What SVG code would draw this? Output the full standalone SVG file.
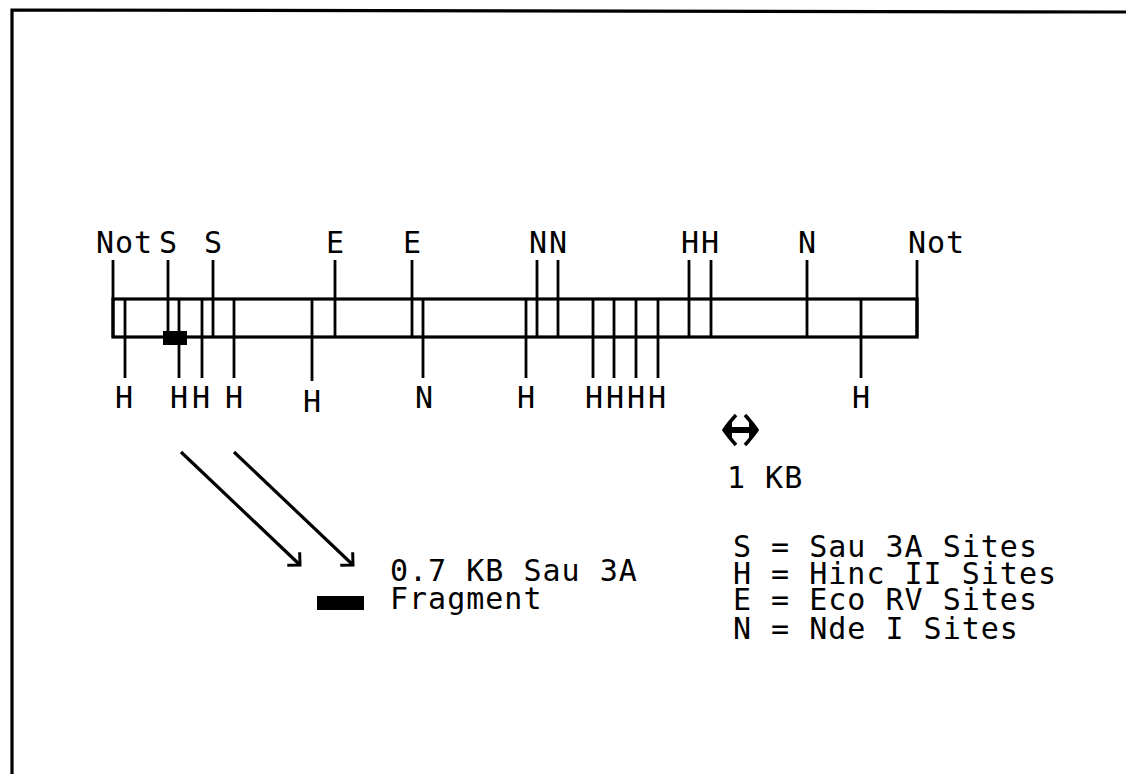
<svg xmlns="http://www.w3.org/2000/svg" width="1126" height="774" viewBox="0 0 1126 774">
<style>
text{font-family:"DejaVu Sans Mono","Liberation Mono",monospace;font-size:30px;fill:#000;letter-spacing:1px}
.lbl{text-anchor:middle;letter-spacing:0}
.ln{stroke:#000;fill:none;stroke-width:3.2}
.tk{stroke:#000;fill:none;stroke-width:2.8}
</style>
<defs>
<marker id="open" markerUnits="userSpaceOnUse" markerWidth="24" markerHeight="24" viewBox="-12 -12 24 24" refX="0" refY="0" orient="auto">
<path d="M-9,-9 L0,0 L-9,9" fill="none" stroke="#000" stroke-width="3"/>
</marker>
</defs>
<path class="ln" d="M12,774 L12,10 L1126,12"/>
<g id="map">
<rect class="ln" x="113" y="299" width="804" height="38"/>
<rect x="163" y="331" width="24" height="14" fill="#000"/>
</g>
<g id="top-sites">
<path class="tk" d="M113,260V337 M168,260V337 M213,260V337 M335,260V337 M412,260V337 M537,260V337 M558,260V337 M689,260V337 M711,260V337 M807,260V337 M917,260V338"/>
<text x="96" y="253">Not</text>
<text class="lbl" x="168" y="253">S</text>
<text class="lbl" x="213" y="253">S</text>
<text class="lbl" x="335" y="253">E</text>
<text class="lbl" x="412" y="253">E</text>
<text class="lbl" x="538 558" y="253">NN</text>
<text class="lbl" x="690 710" y="253">HH</text>
<text class="lbl" x="807" y="253">N</text>
<text x="908" y="253">Not</text>
</g>
<g id="bottom-sites">
<path class="tk" d="M125,299V378 M179,299V378 M202,299V378 M234,299V378 M312,299V381 M423,299V378 M526,299V378 M593,299V378 M614,299V378 M636,299V378 M658,299V378 M861,299V378"/>
<text class="lbl" x="124" y="408">H</text>
<text class="lbl" x="179 201" y="408">HH</text>
<text class="lbl" x="234" y="408">H</text>
<text class="lbl" x="312" y="412">H</text>
<text class="lbl" x="424" y="408">N</text>
<text class="lbl" x="526" y="408">H</text>
<text class="lbl" x="594 615 636 657" y="408">HHHH</text>
<text class="lbl" x="861" y="408">H</text>
</g>
<g id="connectors">
<line class="ln" x1="181" y1="452" x2="300" y2="565" marker-end="url(#open)"/>
<line class="ln" x1="234" y1="452" x2="353" y2="565" marker-end="url(#open)"/>
</g>
<g id="fragment-legend">
<rect x="317" y="596" width="47" height="14" fill="#000"/>
<text x="390" y="581">0.7 KB Sau 3A</text>
<text x="390" y="609">Fragment</text>
</g>
<g id="scale">
<path d="M726,430 H755" stroke="#000" stroke-width="6" fill="none"/>
<path d="M736,415 Q728,424 724,430 Q728,436 736,445 M745,415 Q753,424 757,430 Q753,436 745,445" stroke="#000" stroke-width="3.5" fill="none"/>
<path d="M723,430 L732,421 L732,439 Z M758,430 L749,421 L749,439 Z" fill="#000"/>
<text x="727" y="488">1 KB</text>
</g>
<g id="legend">
<text x="733" y="557">S = Sau 3A Sites</text>
<text x="733" y="584">H = Hinc II Sites</text>
<text x="733" y="610">E = Eco RV Sites</text>
<text x="733" y="639">N = Nde I Sites</text>
</g>
</svg>
